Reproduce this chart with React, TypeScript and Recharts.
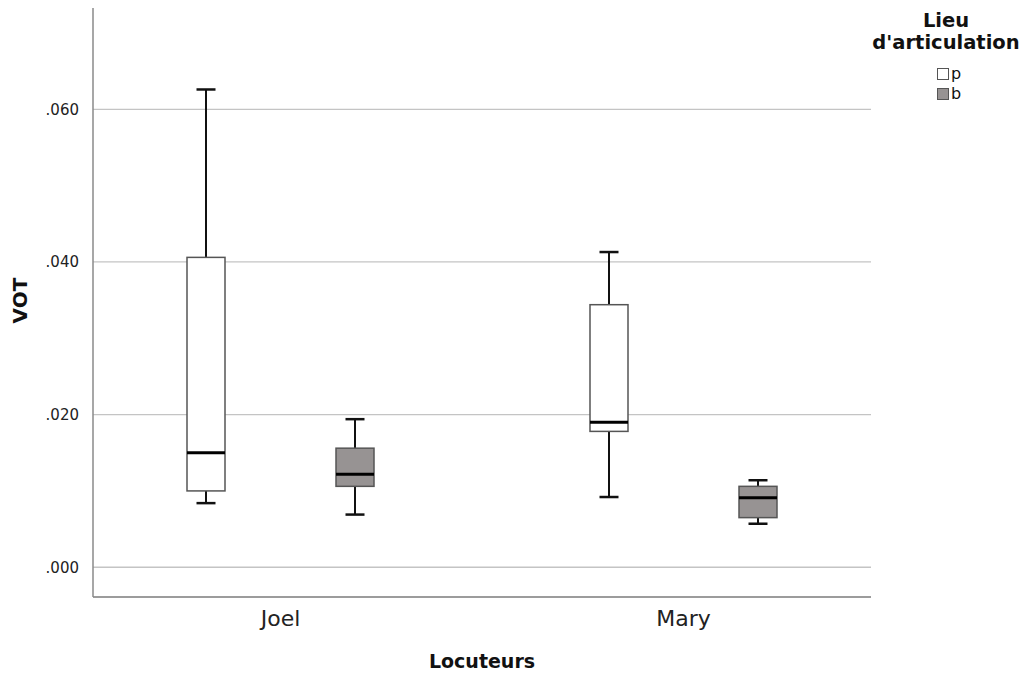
import {
  ComposedChart,
  Bar,
  XAxis,
  YAxis,
  CartesianGrid,
} from "recharts";

const categories = ["Joel", "Mary"];

// five-number summaries per speaker
const pMin = [0.0084, 0.0092];
const pQ1 = [0.01, 0.0178];
const pMed = [0.015, 0.019];
const pQ3 = [0.0406, 0.0344];
const pMax = [0.0626, 0.0413];

const bMin = [0.0069, 0.0057];
const bQ1 = [0.0106, 0.0065];
const bMed = [0.0122, 0.0091];
const bQ3 = [0.0156, 0.0106];
const bMax = [0.0194, 0.0114];

const yTicks = [0, 0.02, 0.04, 0.06];

const seriesNames = ["p", "b"];
const seriesFills = ["#ffffff", "#979393"];

const FONT = "'DejaVu Sans', sans-serif";

const data = categories.map((name, i) => ({
  name,
  p: { min: pMin[i], q1: pQ1[i], med: pMed[i], q3: pQ3[i], max: pMax[i] },
  b: { min: bMin[i], q1: bQ1[i], med: bMed[i], q3: bQ3[i], max: bMax[i] },
}));

function makeBox(key: "p" | "b", fill: string) {
  return (props: any) => {
    const { x, y, width, height, payload } = props;
    const s = payload[key];
    const px = (v: number) => y + ((s.max - v) / (s.max - s.min)) * height;
    const cx = x + width / 2;
    const cap = width / 4;
    return (
      <g>
        <line x1={cx} x2={cx} y1={px(s.max)} y2={px(s.q3)} stroke="#111" strokeWidth={2} />
        <line x1={cx} x2={cx} y1={px(s.q1)} y2={px(s.min)} stroke="#111" strokeWidth={2} />
        <line x1={cx - cap} x2={cx + cap} y1={px(s.max)} y2={px(s.max)} stroke="#111" strokeWidth={2.5} />
        <line x1={cx - cap} x2={cx + cap} y1={px(s.min)} y2={px(s.min)} stroke="#111" strokeWidth={2.5} />
        <rect
          x={x}
          y={px(s.q3)}
          width={width}
          height={px(s.q1) - px(s.q3)}
          fill={fill}
          stroke="#555"
          strokeWidth={1.5}
        />
        <line x1={x} x2={x + width} y1={px(s.med)} y2={px(s.med)} stroke="#000" strokeWidth={3} />
      </g>
    );
  };
}

function LegendBox() {
  return (
    <div
      style={{
        position: "absolute",
        left: 858,
        top: 10,
        width: 176,
        fontFamily: FONT,
        color: "#111",
        textAlign: "center",
      }}
    >
      <div style={{ fontWeight: "bold", fontSize: 19.5, lineHeight: "22px" }}>
        Lieu
        <br />
        d'articulation
      </div>
      <div style={{ marginTop: 10, marginLeft: 79, textAlign: "left" }}>
        {seriesNames.map((n, i) => (
          <div
            key={n}
            style={{ display: "flex", alignItems: "center", height: 20, lineHeight: "20px", fontSize: 16 }}
          >
            <span
              style={{
                display: "inline-block",
                width: 10,
                height: 10,
                background: seriesFills[i],
                border: "1px solid #555",
                marginRight: 2,
              }}
            />
            {n}
          </div>
        ))}
      </div>
    </div>
  );
}

export default function App() {
  return (
    <div style={{ margin: -8, background: "#fff", width: 1034, height: 677, position: "relative" }}>
      <ComposedChart
        width={1034}
        height={677}
        data={data}
        margin={{ top: 4, right: 163, left: 0, bottom: 0 }}
        barGap={111}
      >
        <CartesianGrid vertical={false} stroke="#c4c4c4" strokeWidth={1.3} />
        <XAxis
          dataKey="name"
          height={80}
          padding={{ left: -14, right: -14 }}
          axisLine={{ stroke: "#8a8a8a", strokeWidth: 1.5 }}
          tickLine={false}
          tick={{ fontFamily: FONT, fontSize: 22, fill: "#222" }}
          tickMargin={7}
          label={{
            value: "Locuteurs",
            position: "insideBottom",
            offset: 9,
            style: { fontFamily: FONT, fontSize: 19, fontWeight: "bold", fill: "#111" },
          }}
        />
        <YAxis
          width={93}
          domain={[-0.0039, 0.0738]}
          ticks={yTicks}
          allowDataOverflow
          axisLine={{ stroke: "#8a8a8a", strokeWidth: 1.5 }}
          tickLine={false}
          tickMargin={8}
          tickFormatter={(v: number) => v.toFixed(3).replace(/^0/, "")}
          tick={{ fontFamily: FONT, fontSize: 15, fill: "#222" }}
          label={{
            value: "VOT",
            angle: -90,
            position: "insideLeft",
            offset: 20,
            style: { fontFamily: FONT, fontSize: 20, fontWeight: "bold", fill: "#111", textAnchor: "middle" },
          }}
        />
        <Bar
          dataKey={(d: any) => [d.p.min, d.p.max]}
          name="p"
          barSize={38}
          isAnimationActive={false}
          shape={makeBox("p", seriesFills[0])}
        />
        <Bar
          dataKey={(d: any) => [d.b.min, d.b.max]}
          name="b"
          barSize={38}
          isAnimationActive={false}
          shape={makeBox("b", seriesFills[1])}
        />
      </ComposedChart>
      <LegendBox />
    </div>
  );
}
